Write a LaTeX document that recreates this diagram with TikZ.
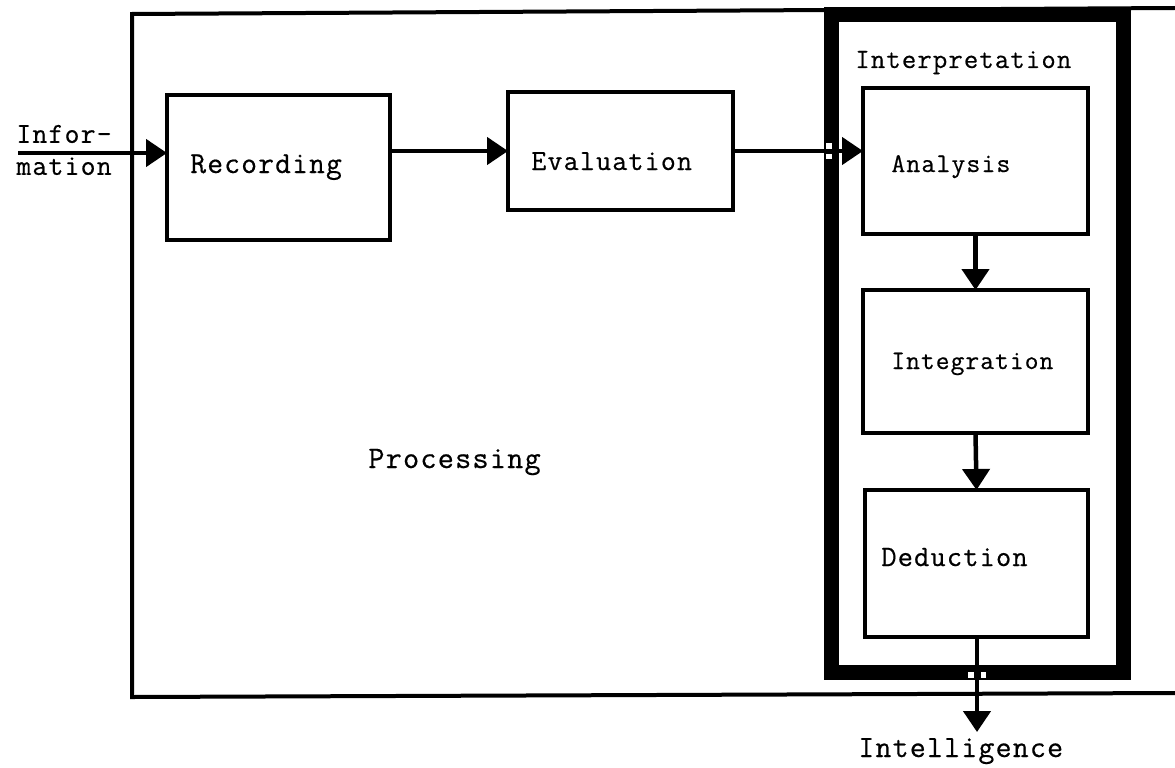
\documentclass[tikz,border=0pt]{standalone}
\usepackage{fontspec}
\setmonofont{Latin Modern Mono}[LetterSpace=4, FakeBold=0.5]
\usetikzlibrary{arrows.meta,fit}
\begin{document}
\begin{tikzpicture}[
  x=0.02cm, y=-0.02cm,
  line join=miter,
  box/.style={draw, line width=0.09cm, inner sep=0pt, outer sep=0pt},
  conn/.style={line width=0.09cm},
  arr/.style={conn, -{Triangle[length=0.42cm, width=0.54cm]}},
  lbl/.style={font=\ttfamily\fontsize{#1}{18.2}\selectfont, inner sep=0pt, anchor=base west},
  lbl/.default=17,
]
\useasboundingbox (0,0) rectangle (1175,767);

% outer "Processing" frame, open on the right
\draw[line width=0.08cm] (1175,8) -- (132,14) -- (132,697) -- (1175,693);

% heavy "Interpretation" frame
\draw[line width=0.3cm] (831,15) rectangle (1123,672);

% process boxes
\coordinate (r1) at (167,95);  \coordinate (r2) at (390,240);
\coordinate (e1) at (508,92);  \coordinate (e2) at (733,210);
\coordinate (a1) at (863,88);  \coordinate (a2) at (1088,234);
\coordinate (i1) at (863,290); \coordinate (i2) at (1088,433);
\coordinate (d1) at (865,490); \coordinate (d2) at (1088,637);
\node[box, fit=(r1)(r2)] (rec) {};
\node[box, fit=(e1)(e2)] (ev) {};
\node[box, fit=(a1)(a2)] (an) {};
\node[box, fit=(i1)(i2)] (ig) {};
\node[box, fit=(d1)(d2)] (de) {};

% labels
\node[lbl=16.5, anchor=west, align=left] (info) at (16,150) {Infor-\\mation};
\node[lbl=17.4] (tRec)  at (190,173) {Recording};
\node[lbl=16.6] (tEv)   at (531,170) {Evaluation};
\node[lbl=15.9] (tInt)  at (855,68)  {Interpretation};
\node[lbl=15.4] (tAn)   at (891,172) {Analysis};
\node[lbl=15.2] (tIg)   at (891,369) {Integration};
\node[lbl=17.8] (tPr)   at (368,468) {Processing};
\node[lbl=16.8] (tDe)   at (881,566) {Deduction};
\node[lbl=17.6] (intel) at (858,757) {Intelligence};

% connectors
\coordinate (src) at (18,153);
\draw[arr] (src) -- (src -| rec.west);
\draw[arr] (rec.east |- ev.west) -- (ev.west);
\draw[arr] (ev.east) -- (ev.east -| an.west);
\draw[arr] (an.south) -- (ig.north);
\draw[arr] (ig.south) -- (de.north);
\coordinate (out) at (977,732);
\draw[arr] (de.south -| out) -- (out);

% small breaks where connectors pass through the heavy frame
\fill[white] (826,143) rectangle (832,148.5);
\fill[white] (826,153.5) rectangle (832,159);
\fill[white] (968,672) rectangle (973.5,678);
\fill[white] (980.5,672) rectangle (986,678);
\end{tikzpicture}
\end{document}
